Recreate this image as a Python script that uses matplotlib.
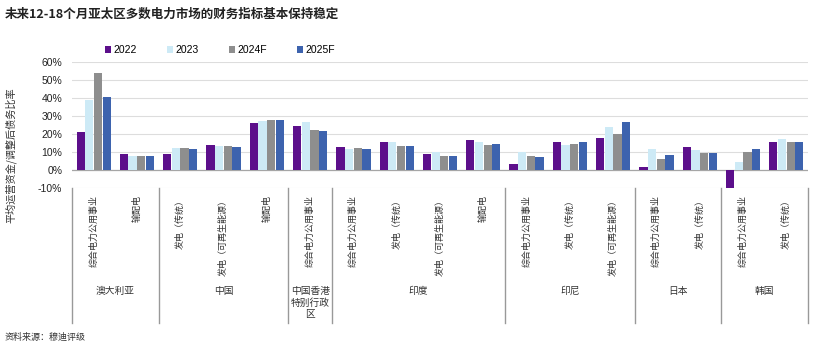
import matplotlib.pyplot as plt
import matplotlib.transforms as mtransforms
import numpy as np

plt.rcParams['font.family'] = ['Noto Sans CJK SC', 'DejaVu Sans']

# categories: (group, label)
groups = ['澳大利亚', '中国', '中国香港\n特别行政\n区', '印度', '印尼', '日本', '韩国']
group_sizes = [2, 3, 1, 4, 3, 2, 2]
categories = [
    '综合电力公用事业', '输配电',
    '发电（传统）', '发电（可再生能源）', '输配电',
    '综合电力公用事业',
    '综合电力公用事业', '发电（传统）', '发电（可再生能源）', '输配电',
    '综合电力公用事业', '发电（传统）', '发电（可再生能源）',
    '综合电力公用事业', '发电（传统）',
    '综合电力公用事业', '发电（传统）',
]

series_names = ['2022', '2023', '2024F', '2025F']
v2022 = [21.0, 8.8, 9.1, 13.8, 26.0, 24.2, 12.7, 15.3, 8.9, 16.8, 3.4, 15.5, 17.7, 1.7, 12.7, -11.2, 15.5]
v2023 = [39.0, 7.8, 12.5, 13.4, 27.0, 26.6, 11.9, 15.3, 9.9, 15.8, 9.9, 14.0, 23.8, 11.7, 11.0, 4.3, 17.1]
v2024 = [54.0, 7.8, 12.1, 13.6, 28.0, 22.3, 12.5, 13.4, 7.8, 13.8, 7.8, 14.2, 19.9, 6.1, 9.7, 9.9, 15.8]
v2025 = [40.6, 8.0, 11.9, 13.0, 28.0, 21.4, 11.5, 13.4, 8.0, 14.3, 7.4, 15.3, 26.6, 8.6, 9.5, 11.5, 15.5]
colors = ['#5C0F8B', '#CDEAF6', '#8E8E8E', '#3D63AE']

fig = plt.figure(figsize=(8.3, 3.52), dpi=100)
ax = fig.add_axes([72 / 830, 1 - 188 / 352, 736 / 830, 126 / 352])

n = len(categories)
x = np.arange(n)
width = 0.19
for k, vals in enumerate([v2022, v2023, v2024, v2025]):
    ax.bar(x + (k - 1.5) * 0.2, vals, width, color=colors[k], label=series_names[k], zorder=3)

ax.set_xlim(-0.5, n - 0.5)
ax.set_ylim(-10, 60)
ax.set_yticks(np.arange(-10, 61, 10))
ax.set_yticklabels([f'{t}%' for t in range(-10, 61, 10)], fontsize=7.5, color='#222222',
                   family=['Liberation Sans', 'DejaVu Sans'])
ax.tick_params(axis='y', length=0, pad=7)
ax.tick_params(axis='x', length=0, labelbottom=False)
for s in ax.spines.values():
    s.set_visible(False)
for t in range(-10, 61, 10):
    ax.axhline(t, color='#A6A6A6' if t == 0 else '#DDDDDD', lw=0.9 if t == 0 else 0.8, zorder=1)

trans = mtransforms.blended_transform_factory(ax.transData, ax.transAxes)

# category labels
for i, lab in enumerate(categories):
    ax.text(i, -0.055, lab, transform=trans, rotation=90, ha='center', va='top',
            fontsize=6.5, color='#333333')

# group separators and labels
edges = np.concatenate([[0], np.cumsum(group_sizes)]) - 0.5
for e in edges:
    ax.plot([e, e], [0, -1.07], transform=trans, color='#999999', lw=1.0, clip_on=False)
for g, (a, b) in enumerate(zip(edges[:-1], edges[1:])):
    ax.text((a + b) / 2, -0.78, groups[g], transform=trans, ha='center', va='top',
            fontsize=7, color='#333333', linespacing=1.15)

ax.set_ylabel('平均运营资金/调整后债务比率', fontsize=7.3, color='#333333')
ax.yaxis.set_label_coords(-0.075, 0.26)

fig.legend(loc='center', bbox_to_anchor=(0.265, 1 - 50 / 352), ncol=4, frameon=False,
           handlelength=0.6, handleheight=0.6, handletextpad=0.2,
           columnspacing=2.9, prop={'family': ['Liberation Sans', 'DejaVu Sans'], 'size': 7.5})

fig.text(5 / 830, 1 - 14 / 352, '未来12-18个月亚太区多数电力市场的财务指标基本保持稳定',
         fontsize=9, fontweight='bold', color='#222222', va='center', ha='left')
fig.text(5 / 830, 1 - 337 / 352, '资料来源：穆迪评级', fontsize=6.5, color='#333333',
         va='center', ha='left')

fig.savefig('out.png', dpi=100)
